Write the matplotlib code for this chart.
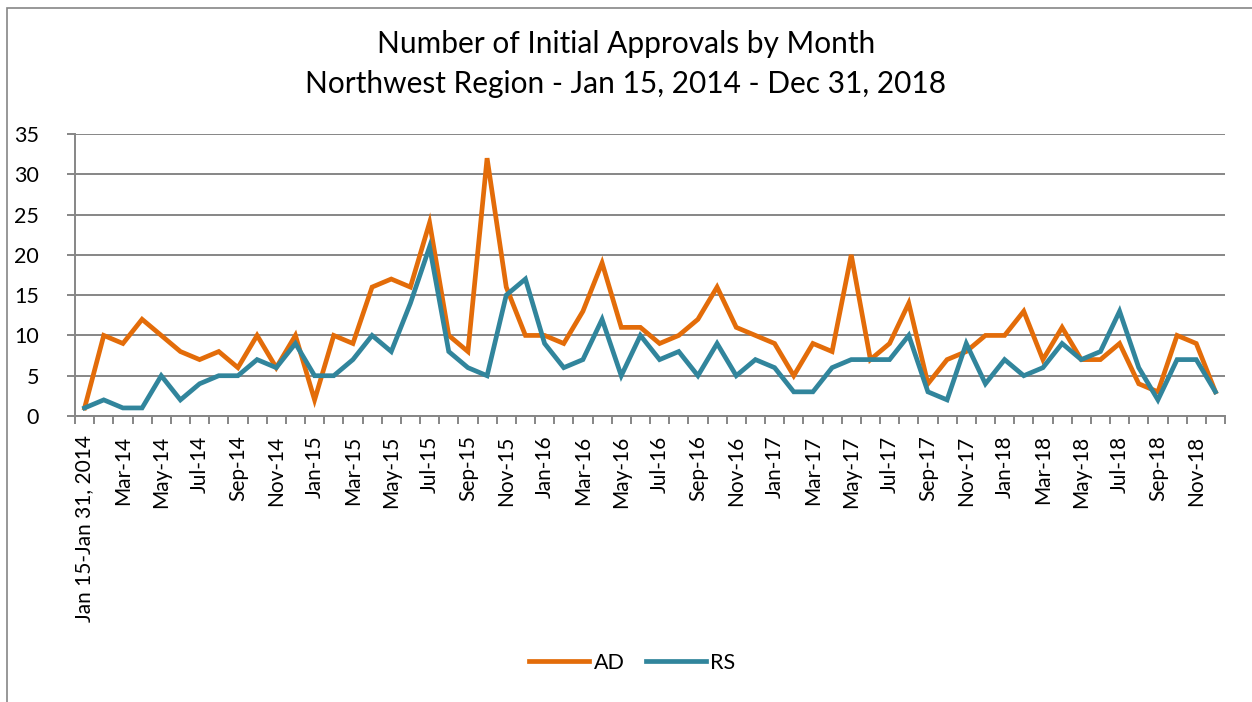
from pathlib import Path

import matplotlib.pyplot as plt
import numpy as np
import pandas as pd
from matplotlib.patches import Rectangle


OUTPUT_PATH = Path("out.png")

TITLE = "Number of Initial Approvals by Month\nNorthwest Region - Jan 15, 2014 - Dec 31, 2018"

# one category per month, first one is the partial January
MONTHS = ["Jan 15-Jan 31, 2014"] + [
    d.strftime("%b-%y") for d in pd.date_range("2014-02-01", "2018-12-01", freq="MS")
]

AD = [1, 10, 9, 12, 10, 8, 7, 8, 6, 10, 6, 10,
      2, 10, 9, 16, 17, 16, 24, 10, 8, 32, 16, 10,
      10, 9, 13, 19, 11, 11, 9, 10, 12, 16, 11, 10,
      9, 5, 9, 8, 20, 7, 9, 14, 4, 7, 8, 10,
      10, 13, 7, 11, 7, 7, 9, 4, 3, 10, 9, 3]

RS = [1, 2, 1, 1, 5, 2, 4, 5, 5, 7, 6, 9,
      5, 5, 7, 10, 8, 14, 21, 8, 6, 5, 15, 17,
      9, 6, 7, 12, 5, 10, 7, 8, 5, 9, 5, 7,
      6, 3, 3, 6, 7, 7, 7, 10, 3, 2, 9, 4,
      7, 5, 6, 9, 7, 8, 13, 6, 2, 7, 7, 3]

Y_TICKS = [0, 5, 10, 15, 20, 25, 30, 35]

AD_COLOR = "#E36C09"
RS_COLOR = "#31859C"
GRID_COLOR = "#868686"


def main() -> None:

    plt.rcParams["font.family"] = ["Lato", "DejaVu Sans"]

    fig = plt.figure(figsize=(12.52, 7.02), dpi=100)
    ax = fig.add_axes([75 / 1252, 1 - 416 / 702, 1150 / 1252, 282 / 702])

    x = np.arange(len(MONTHS))

    ax.plot(x, AD, color=AD_COLOR, lw=3.4, label="AD", solid_joinstyle="miter", zorder=3)
    ax.plot(x, RS, color=RS_COLOR, lw=3.4, label="RS", solid_joinstyle="miter", zorder=3)

    ax.set_xlim(-0.5, len(MONTHS) - 0.5)
    ax.set_ylim(0, 35)

    ax.set_yticks(Y_TICKS)
    ax.tick_params(axis="y", length=6, width=1.4, color=GRID_COLOR, pad=20, labelsize=15.5)
    ax.grid(axis="y", color=GRID_COLOR, lw=1.4, zorder=0)

    # tick marks sit between categories, labels on every other month
    ax.set_xticks(np.arange(len(MONTHS) + 1) - 0.5)
    ax.set_xticklabels([])
    ax.tick_params(axis="x", which="major", length=6, width=1.4, color=GRID_COLOR)
    ax.set_xticks(x[::2], minor=True)
    ax.set_xticklabels(MONTHS[::2], minor=True, rotation=90, fontsize=15)
    ax.tick_params(axis="x", which="minor", length=0, pad=14)

    for side in ["top", "right"]:
        ax.spines[side].set_visible(False)
    for side in ["left", "bottom"]:
        ax.spines[side].set_color(GRID_COLOR)
        ax.spines[side].set_linewidth(1.4)

    fig.text(0.5, 1 - 64 / 702, TITLE, ha="center", va="center",
             fontsize=21.5, linespacing=1.5)

    fig.legend(loc="center", bbox_to_anchor=(0.505, 1 - 663 / 702), ncol=2,
               frameon=False, fontsize=15.5, handlelength=2.8, handletextpad=0.2,
               columnspacing=1.0)

    # outer chart frame, partly cut off like the source
    fig.patches.append(Rectangle((7 / 1252, -0.1), 1.2, 1.1 - 8 / 702,
                                 transform=fig.transFigure, fill=False,
                                 edgecolor=GRID_COLOR, lw=1.2))

    fig.savefig(OUTPUT_PATH, dpi=100)
    plt.close(fig)


if __name__ == "__main__":
    main()
